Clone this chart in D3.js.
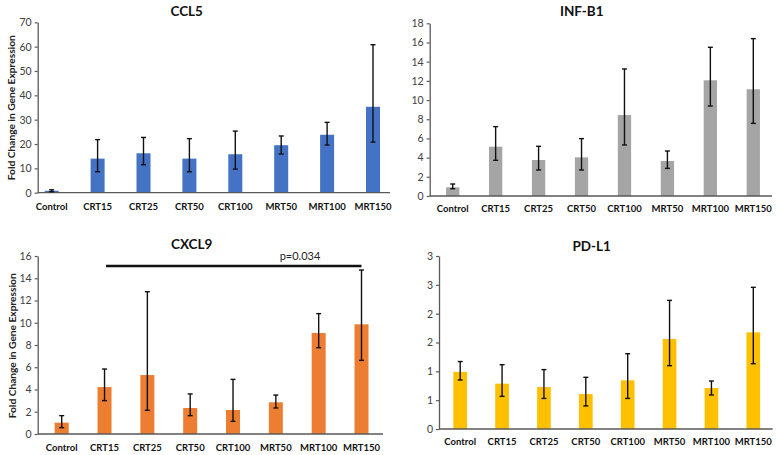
<!DOCTYPE html>
<html>
<head>
<meta charset="utf-8">
<script src="https://cdn.jsdelivr.net/npm/d3@7"></script>
<style>
  html, body { margin: 0; padding: 0; background: #fff; }
  svg { display: block; }
</style>
</head>
<body>
<svg id="chart" width="780" height="455"></svg>
<script>
const categories = ["Control", "CRT15", "CRT25", "CRT50", "CRT100", "MRT50", "MRT100", "MRT150"];

const ccl5Mean  = [0.8, 14.0, 16.2, 14.0, 15.8, 19.5, 23.8, 35.3];
const ccl5Upper = [1.2, 21.8, 22.7, 22.2, 25.3, 23.3, 28.9, 60.8];
const ccl5Lower = [0.4, 8.6, 11.5, 8.6, 9.7, 15.9, 19.6, 20.8];
const ccl5Ticks = [0, 10, 20, 30, 40, 50, 60, 70];

const infb1Mean  = [0.9, 5.14, 3.75, 4.03, 8.44, 3.65, 12.06, 11.12];
const infb1Upper = [1.25, 7.23, 5.18, 5.98, 13.24, 4.69, 15.5, 16.4];
const infb1Lower = [0.76, 3.72, 2.71, 2.71, 5.32, 2.88, 9.38, 7.57];
const infb1Ticks = [0, 2, 4, 6, 8, 10, 12, 14, 16, 18];

const cxcl9Mean  = [1.02, 4.22, 5.30, 2.34, 2.16, 2.85, 9.08, 9.86];
const cxcl9Upper = [1.65, 5.84, 12.79, 3.6, 4.91, 3.5, 10.82, 14.74];
const cxcl9Lower = [0.57, 3.0, 2.13, 1.65, 1.14, 2.34, 7.76, 6.62];
const cxcl9Ticks = [0, 2, 4, 6, 8, 10, 12, 14, 16];

const pdl1Mean  = [0.99, 0.786, 0.728, 0.607, 0.844, 1.56, 0.711, 1.676];
const pdl1Upper = [1.17, 1.115, 1.03, 0.896, 1.306, 2.23, 0.832, 2.457];
const pdl1Lower = [0.85, 0.566, 0.53, 0.40, 0.53, 1.098, 0.59, 1.133];
const pdl1Ticks = [0, 0.5, 1, 1.5, 2, 2.5, 3];
const pdl1TickLabels = ["0", "1", "1", "2", "2", "3", "3"];

const yAxisTitle = "Fold Change in Gene Expression";
const sigLabel = "p=0.034";

const svg = d3.select("#chart");
const FONT = "Lato, 'Open Sans', 'Noto Sans', sans-serif";

function panel(cfg) {
  const g = svg.append("g");
  const y = d3.scaleLinear().domain([0, cfg.ticks[cfg.ticks.length - 1]]).range([cfg.y0, cfg.yTop]);
  const x = d3.scalePoint().domain(categories).range([cfg.xFirst, cfg.xLast]);

  // y axis
  const axis = d3.axisLeft(y).tickValues(cfg.ticks).tickSize(3).tickSizeOuter(0)
    .tickFormat((d, i) => cfg.tickLabels ? cfg.tickLabels[i] : d3.format("d")(d));
  const ag = g.append("g").attr("transform", `translate(${cfg.axisX},0)`).call(axis);
  ag.select(".domain").attr("stroke", "#595959").attr("stroke-width", 1.3);
  ag.selectAll(".tick line").attr("stroke", "#595959").attr("stroke-width", 1.2);
  ag.selectAll(".tick text").attr("fill", "#404040").attr("font-family", FONT)
    .attr("font-size", 10.5).attr("x", -6);

  // bars
  const rows = categories.map((c, i) => ({c, m: cfg.mean[i], hi: cfg.upper[i], lo: cfg.lower[i]}));
  g.selectAll("rect.bar").data(rows).join("rect").attr("class", "bar")
    .attr("x", d => x(d.c) - cfg.barW / 2)
    .attr("width", cfg.barW)
    .attr("y", d => y(d.m))
    .attr("height", d => y(0) - y(d.m))
    .attr("fill", cfg.color);

  // x axis baseline
  g.append("line").attr("x1", cfg.axisX).attr("x2", cfg.axisRight)
    .attr("y1", y(0)).attr("y2", y(0)).attr("stroke", "#595959").attr("stroke-width", 1.3);

  // error bars
  const eg = g.selectAll("g.err").data(rows).join("g").attr("class", "err")
    .attr("stroke", "#111").attr("stroke-width", 1.4);
  eg.append("line").attr("x1", d => x(d.c)).attr("x2", d => x(d.c))
    .attr("y1", d => y(d.hi)).attr("y2", d => y(d.lo));
  eg.append("line").attr("x1", d => x(d.c) - 2.5).attr("x2", d => x(d.c) + 2.5)
    .attr("y1", d => y(d.hi)).attr("y2", d => y(d.hi));
  eg.append("line").attr("x1", d => x(d.c) - 2.5).attr("x2", d => x(d.c) + 2.5)
    .attr("y1", d => y(d.lo)).attr("y2", d => y(d.lo));

  // category labels
  g.selectAll("text.cat").data(categories).join("text").attr("class", "cat")
    .attr("x", d => x(d)).attr("y", cfg.labelY)
    .attr("text-anchor", "middle").attr("font-family", FONT)
    .attr("font-weight", "bold").attr("font-size", 9.5).attr("fill", "#111")
    .text(d => d);

  // title
  g.append("text").attr("x", cfg.titleX).attr("y", cfg.titleY)
    .attr("text-anchor", "middle").attr("font-family", FONT)
    .attr("font-weight", "bold").attr("font-size", 13.5).attr("fill", "#111")
    .text(cfg.title);

  if (cfg.yTitle) {
    g.append("text")
      .attr("transform", `translate(${cfg.yTitleX},${cfg.yTitleY}) rotate(-90)`)
      .attr("text-anchor", "middle").attr("font-family", FONT)
      .attr("font-weight", "bold").attr("font-size", 10.2).attr("fill", "#222")
      .text(cfg.yTitle);
  }
  return {g, x, y};
}

panel({title: "CCL5", mean: ccl5Mean, upper: ccl5Upper, lower: ccl5Lower, ticks: ccl5Ticks,
  color: "#4472C4", axisX: 37.7, y0: 192.7, yTop: 22.3, xFirst: 51.7, xLast: 373, barW: 14,
  axisRight: 390, titleX: 186.7, titleY: 16, labelY: 209.5,
  yTitle: yAxisTitle, yTitleX: 15, yTitleY: 107.7});

panel({title: "INF-B1", mean: infb1Mean, upper: infb1Upper, lower: infb1Lower, ticks: infb1Ticks,
  color: "#A5A5A5", axisX: 429.7, y0: 196, yTop: 23.3, xFirst: 452.7, xLast: 753.3, barW: 13.3,
  axisRight: 772, titleX: 581.7, titleY: 16, labelY: 212});

const p3 = panel({title: "CXCL9", mean: cxcl9Mean, upper: cxcl9Upper, lower: cxcl9Lower, ticks: cxcl9Ticks,
  color: "#ED7D31", axisX: 37.7, y0: 434, yTop: 256, xFirst: 61.7, xLast: 361.5, barW: 14,
  axisRight: 383, titleX: 191.7, titleY: 249, labelY: 450.5,
  yTitle: yAxisTitle, yTitleX: 16, yTitleY: 345.8});

panel({title: "PD-L1", mean: pdl1Mean, upper: pdl1Upper, lower: pdl1Lower, ticks: pdl1Ticks,
  tickLabels: pdl1TickLabels,
  color: "#FFC000", axisX: 439, y0: 429, yTop: 256, xFirst: 460.2, xLast: 753.3, barW: 13.7,
  axisRight: 772.7, titleX: 591.7, titleY: 251, labelY: 444.5});

// significance bracket in CXCL9
p3.g.append("line")
  .attr("x1", p3.x("CRT15") + 1.5).attr("x2", p3.x("MRT150"))
  .attr("y1", 266).attr("y2", 266)
  .attr("stroke", "#111").attr("stroke-width", 2.6);
p3.g.append("text").attr("x", 300).attr("y", 259.5)
  .attr("text-anchor", "middle").attr("font-family", FONT)
  .attr("font-size", 11).attr("fill", "#222").text(sigLabel);
</script>
</body>
</html>
